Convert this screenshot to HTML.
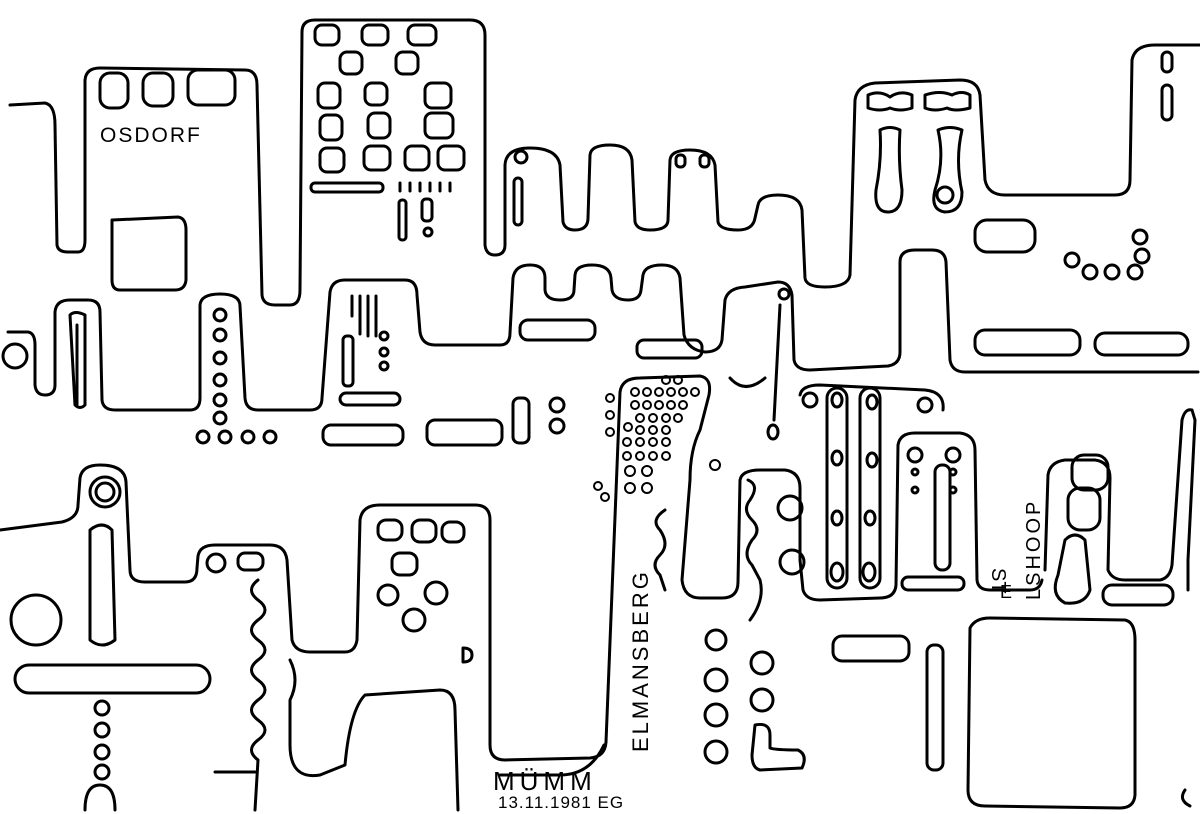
<!DOCTYPE html>
<html><head><style>html,body{margin:0;padding:0;background:#fff}svg{display:block}</style></head>
<body>
<svg width="1200" height="814" viewBox="0 0 1200 814" xmlns="http://www.w3.org/2000/svg">
<g fill="none" stroke="#000" stroke-width="3" stroke-linejoin="round" stroke-linecap="round">
<path d="M10,105 L45,103 Q55,105 55,125 L57,245 Q58,252 68,252 L78,252 Q85,252 85,240 L85,80 Q86,68 100,68 L245,70 Q257,70 257,85 L262,295 Q263,305 275,305 L290,305 Q300,305 300,290 L302,32 Q302,20 315,20 L470,20 Q485,20 485,35 L485,245 Q486,255 495,255 Q505,255 505,245 L505,165 Q506,148 530,148 Q557,148 560,165 L563,222 Q565,230 575,230 Q588,230 588,218 L590,155 Q591,145 610,145 Q630,145 632,160 L635,222 Q637,230 650,230 Q668,230 668,220 L670,160 Q671,150 690,150 Q712,150 715,165 L718,222 Q720,230 738,230 Q753,230 755,218 L758,205 Q760,195 778,195 Q800,195 802,210 L805,278 Q806,287 825,287 Q848,287 850,275 L855,100 Q857,85 875,83 L960,80 Q978,80 980,95 L985,180 Q988,195 1005,195 L1115,195 Q1130,195 1130,180 L1132,60 Q1135,45 1155,45 L1200,45"/>
<path d="M8,332 L28,332 Q35,333 35,345 L35,385 Q36,395 45,395 Q55,395 55,385 L55,312 Q56,300 70,300 L88,300 Q100,300 100,312 L102,400 Q103,410 115,410 L190,410 Q200,410 200,398 L200,305 Q201,294 220,294 Q240,294 240,306 L245,398 Q246,410 258,410 L310,410 Q322,410 322,398 L330,292 Q332,280 345,280 L405,280 Q417,280 417,295 L420,332 Q422,345 435,345 L500,345 Q510,345 510,333 L513,278 Q515,265 530,265 Q545,265 545,278 L545,290 Q546,300 560,300 Q574,300 574,290 L575,275 Q576,265 592,265 Q610,265 611,278 L612,290 Q614,300 628,300 Q640,300 641,290 L643,275 Q645,265 662,265 Q678,265 680,278 L684,335 Q688,350 705,352 Q720,352 722,340 L725,300 Q728,288 745,287 L778,282 Q790,282 792,295 L794,360 Q796,370 810,370 L888,366 Q900,364 900,352 L900,262 Q900,250 915,250 L932,250 Q945,250 946,262 L950,360 Q952,372 965,372 L1198,372"/>
<path d="M0,530 L62,522 Q78,518 78,505 L80,478 Q82,465 100,465 Q125,465 126,482 L130,570 Q130,582 145,582 L185,582 Q197,582 197,568 L198,556 Q200,545 215,545 L270,545 Q285,545 287,560 L292,640 Q295,652 310,652 L345,652 Q355,652 357,640 L360,520 Q362,505 380,505 L475,505 Q490,505 490,520 L490,745 Q490,760 505,760 L590,758 Q605,757 606,742"/>
<path d="M606,742 L620,392 Q622,378 640,378 L700,376 Q712,378 709,395 L700,430 Q690,450 690,480 L682,580 Q684,598 700,598 L722,598 Q738,598 738,582 L740,480 Q742,470 760,470 L785,470 Q800,472 800,488 L800,560 L803,590 Q806,600 820,600 L880,598 Q895,598 896,585 L898,445 Q900,433 915,433 L960,433 Q975,435 975,450 L977,580 Q978,590 990,590 L1030,590 Q1040,590 1042,580"/>
<path d="M604,745 Q590,775 560,775 L500,775"/>
<path d="M1045,570 L1048,475 Q1050,462 1065,460 L1095,460 Q1110,462 1110,478 L1108,570 Q1112,580 1125,580 L1160,580 Q1170,578 1172,565 L1182,420 Q1185,408 1192,410 L1195,420 L1188,560 L1188,590"/>
<path d="M1185,790 Q1178,800 1190,806"/>
<path d="M970,628 Q975,618 990,618 L1125,620 Q1135,622 1135,640 L1135,795 Q1134,808 1120,808 L985,806 Q968,806 968,790 Z"/>
<rect x="100" y="73" width="28" height="35" rx="10"/><rect x="143" y="73" width="30" height="33" rx="10"/><rect x="188" y="70" width="47" height="35" rx="10"/>
<path d="M112,220 L178,217 Q186,218 186,230 L186,280 Q185,290 175,290 L120,290 Q112,290 112,280 Z"/>
<rect x="315" y="25" width="24" height="20" rx="7"/><rect x="362" y="25" width="26" height="20" rx="7"/><rect x="408" y="25" width="28" height="20" rx="7"/>
<rect x="340" y="52" width="22" height="22" rx="7"/><rect x="396" y="52" width="22" height="22" rx="7"/>
<rect x="318" y="83" width="22" height="25" rx="7"/><rect x="365" y="83" width="22" height="22" rx="7"/><rect x="425" y="83" width="26" height="25" rx="7"/>
<rect x="320" y="115" width="22" height="25" rx="7"/><rect x="368" y="113" width="22" height="25" rx="7"/><rect x="425" y="113" width="28" height="25" rx="7"/>
<rect x="320" y="148" width="24" height="24" rx="7"/><rect x="364" y="146" width="26" height="24" rx="7"/><rect x="405" y="146" width="24" height="24" rx="7"/><rect x="438" y="146" width="26" height="24" rx="7"/>
<rect x="311" y="183" width="72" height="9" rx="4"/>
<path d="M400,183v8M410,183v8M420,183v8M430,183v8M440,183v8M450,183v8"/>
<rect x="399" y="200" width="7" height="40" rx="3"/><rect x="422" y="199" width="10" height="22" rx="4"/><circle cx="428" cy="232" r="4"/>
<circle cx="521" cy="157" r="6"/><rect x="514" y="178" width="8" height="47" rx="4"/>
<rect x="676" y="155" width="9" height="12" rx="4"/><rect x="700" y="155" width="9" height="12" rx="4"/>
<path d="M868,95 Q880,90 890,97 Q900,90 912,95 L912,108 Q900,112 890,108 Q880,112 868,108 Z"/>
<path d="M925,95 Q940,90 952,95 Q962,90 970,95 L970,108 Q955,112 947,108 Q935,112 925,108 Z"/>
<path d="M880,130 Q890,125 900,130 Q898,160 902,190 Q902,212 888,212 Q874,212 876,190 Q882,160 880,130 Z"/>
<path d="M938,130 Q950,125 962,130 Q955,160 962,192 Q962,212 945,212 Q930,210 935,190 Q945,160 938,130 Z"/><circle cx="945" cy="195" r="8"/>
<rect x="975" y="220" width="60" height="32" rx="12"/>
<rect x="1162" y="52" width="10" height="20" rx="5"/><rect x="1162" y="85" width="10" height="35" rx="5"/>
<circle cx="1140" cy="237" r="7"/><circle cx="1142" cy="256" r="7"/><circle cx="1135" cy="272" r="7"/><circle cx="1112" cy="272" r="7"/><circle cx="1090" cy="272" r="7"/><circle cx="1072" cy="260" r="7"/>
<circle cx="15" cy="356" r="12"/>
<path d="M70,315 Q75,310 85,315 L85,405 Q80,410 75,405 Z"/><path d="M77,325 L77,405"/>
<circle cx="220" cy="315" r="6"/><circle cx="220" cy="335" r="6"/><circle cx="220" cy="358" r="6"/><circle cx="220" cy="380" r="6"/><circle cx="220" cy="400" r="6"/><circle cx="220" cy="418" r="6"/>
<circle cx="203" cy="437" r="6"/><circle cx="225" cy="437" r="6"/><circle cx="248" cy="437" r="6"/><circle cx="270" cy="437" r="6"/>
<path d="M352,296v20M360,296v38M368,296v40M376,296v40"/>
<rect x="343" y="336" width="10" height="50" rx="4"/><circle cx="384" cy="336" r="4"/><circle cx="384" cy="352" r="4"/><circle cx="384" cy="366" r="4"/>
<rect x="340" y="393" width="60" height="12" rx="6"/>
<rect x="323" y="425" width="80" height="20" rx="8"/><rect x="427" y="420" width="75" height="25" rx="8"/>
<rect x="513" y="398" width="16" height="45" rx="6"/><circle cx="557" cy="405" r="7"/><circle cx="557" cy="426" r="7"/>
<rect x="520" y="320" width="75" height="20" rx="8"/><rect x="637" y="340" width="65" height="18" rx="7"/>
<path d="M730,378 Q745,395 765,378"/>
<circle cx="784" cy="294" r="5"/><path d="M780,305 L774,420"/><ellipse cx="773" cy="432" rx="5" ry="7"/>
<rect x="975" y="330" width="105" height="25" rx="10"/><rect x="1095" y="333" width="93" height="22" rx="10"/>
<g stroke-width="2">
<circle cx="610" cy="398" r="4"/><circle cx="610" cy="415" r="4"/><circle cx="610" cy="432" r="4"/><circle cx="598" cy="486" r="4"/><circle cx="605" cy="497" r="4"/><circle cx="715" cy="465" r="5"/>
<circle cx="666" cy="380" r="4"/><circle cx="678" cy="380" r="4"/>
<circle cx="635" cy="392" r="4"/><circle cx="647" cy="392" r="4"/><circle cx="659" cy="392" r="4"/><circle cx="671" cy="392" r="4"/><circle cx="683" cy="392" r="4"/><circle cx="695" cy="392" r="4"/>
<circle cx="635" cy="405" r="4"/><circle cx="647" cy="405" r="4"/><circle cx="659" cy="405" r="4"/><circle cx="671" cy="405" r="4"/><circle cx="683" cy="405" r="4"/>
<circle cx="640" cy="418" r="4"/><circle cx="653" cy="418" r="4"/><circle cx="666" cy="418" r="4"/><circle cx="678" cy="418" r="4"/>
<circle cx="628" cy="427" r="4"/><circle cx="640" cy="430" r="4"/><circle cx="653" cy="430" r="4"/><circle cx="666" cy="430" r="4"/>
<circle cx="627" cy="442" r="4"/><circle cx="640" cy="442" r="4"/><circle cx="653" cy="442" r="4"/><circle cx="666" cy="442" r="4"/>
<circle cx="627" cy="456" r="4"/><circle cx="640" cy="456" r="4"/><circle cx="653" cy="456" r="4"/><circle cx="666" cy="456" r="4"/>
<circle cx="630" cy="471" r="5"/><circle cx="647" cy="471" r="5"/><circle cx="630" cy="488" r="5"/><circle cx="647" cy="488" r="5"/>
</g>
<path d="M665,510 Q650,520 660,530 Q670,545 660,555 Q650,565 660,575 L665,590"/>
<path d="M748,480 Q760,485 750,500 Q742,510 752,520 Q762,530 752,540 Q742,555 752,565 L760,580 Q765,600 750,620"/>
<circle cx="790" cy="508" r="12"/><circle cx="792" cy="562" r="12"/>
<path d="M800,395 Q802,385 820,385 L925,390 Q945,392 943,410"/>
<rect x="827" y="388" width="20" height="200" rx="10"/><rect x="860" y="388" width="20" height="200" rx="10"/>
<ellipse cx="837" cy="400" rx="5" ry="7"/><ellipse cx="837" cy="458" rx="5" ry="7"/><ellipse cx="837" cy="518" rx="5" ry="7"/><ellipse cx="837" cy="572" rx="6" ry="9"/>
<ellipse cx="872" cy="402" rx="5" ry="7"/><ellipse cx="872" cy="460" rx="5" ry="7"/><ellipse cx="870" cy="518" rx="5" ry="7"/><ellipse cx="869" cy="572" rx="6" ry="9"/>
<circle cx="810" cy="400" r="7"/><circle cx="925" cy="405" r="7"/>
<circle cx="915" cy="455" r="7"/><circle cx="953" cy="455" r="7"/><circle cx="915" cy="472" r="3"/><circle cx="915" cy="490" r="3"/><circle cx="953" cy="472" r="3"/><circle cx="953" cy="490" r="3"/>
<rect x="935" y="465" width="15" height="105" rx="7"/>
<rect x="902" y="577" width="62" height="13" rx="6"/>
<rect x="1072" y="455" width="36" height="35" rx="12"/><rect x="1068" y="488" width="32" height="42" rx="12"/>
<path d="M1065,540 Q1075,530 1085,540 L1090,590 Q1085,605 1065,603 Q1050,595 1058,575 Z"/>
<rect x="1103" y="585" width="70" height="20" rx="9"/>
<rect x="833" y="636" width="76" height="25" rx="9"/><rect x="927" y="645" width="16" height="125" rx="7"/>
<circle cx="716" cy="640" r="10"/><circle cx="716" cy="680" r="11"/><circle cx="716" cy="715" r="11"/><circle cx="716" cy="752" r="11"/>
<circle cx="762" cy="663" r="11"/><circle cx="762" cy="700" r="11"/>
<path d="M755,725 Q770,722 770,735 L770,748 Q775,750 798,750 Q808,755 802,768 L760,770 Q752,768 752,755 Z"/>
<circle cx="105" cy="492" r="15"/><circle cx="105" cy="492" r="9"/>
<path d="M90,530 Q102,520 112,530 L115,640 Q102,650 90,640 Z"/>
<circle cx="36" cy="620" r="25"/>
<rect x="15" y="665" width="195" height="28" rx="14"/>
<circle cx="102" cy="708" r="7"/><circle cx="102" cy="730" r="7"/><circle cx="102" cy="752" r="7"/><circle cx="102" cy="772" r="7"/>
<path d="M85,810 Q85,785 100,785 Q115,785 115,810"/>
<circle cx="216" cy="563" r="9"/><rect x="238" y="553" width="25" height="17" rx="7"/>
<path d="M258,580 Q245,590 258,600 Q272,610 258,620 Q245,630 258,640 Q272,650 258,660 Q245,670 258,680 Q272,690 258,700 Q245,710 258,720 Q272,730 258,740 Q245,750 258,760 L255,810"/>
<path d="M215,772 L255,772"/>
<path d="M290,660 Q300,680 290,700 L290,745 Q290,780 320,775 L345,765 Q350,710 365,695 L440,690 Q455,690 455,710 L458,810"/>
<rect x="378" y="520" width="24" height="20" rx="8"/><rect x="412" y="520" width="24" height="22" rx="8"/><rect x="442" y="522" width="22" height="20" rx="8"/>
<rect x="392" y="553" width="25" height="22" rx="8"/><circle cx="388" cy="595" r="10"/><circle cx="436" cy="593" r="11"/><circle cx="414" cy="620" r="11"/>
<path d="M463,648 L463,662 Q472,662 472,655 Q472,648 463,648"/>
</g>
<g font-family="Liberation Sans, sans-serif" fill="#000">
<text x="100" y="142" font-size="21" letter-spacing="2">OSDORF</text>
<text x="493" y="790" font-size="26" letter-spacing="5">MÜMM</text>
<text x="498" y="808" font-size="17" letter-spacing="1">13.11.1981 EG</text>
<text transform="translate(648,752) rotate(-90)" font-size="22" letter-spacing="3">ELMANSBERG</text>
<text transform="translate(992,568) rotate(90)" font-size="20">ST</text>
<text x="1000" y="598" font-size="18">E</text>
<text transform="translate(1040,600) rotate(-90)" font-size="20" letter-spacing="3">LSHOOP</text>
</g>
</svg>
</body></html>
